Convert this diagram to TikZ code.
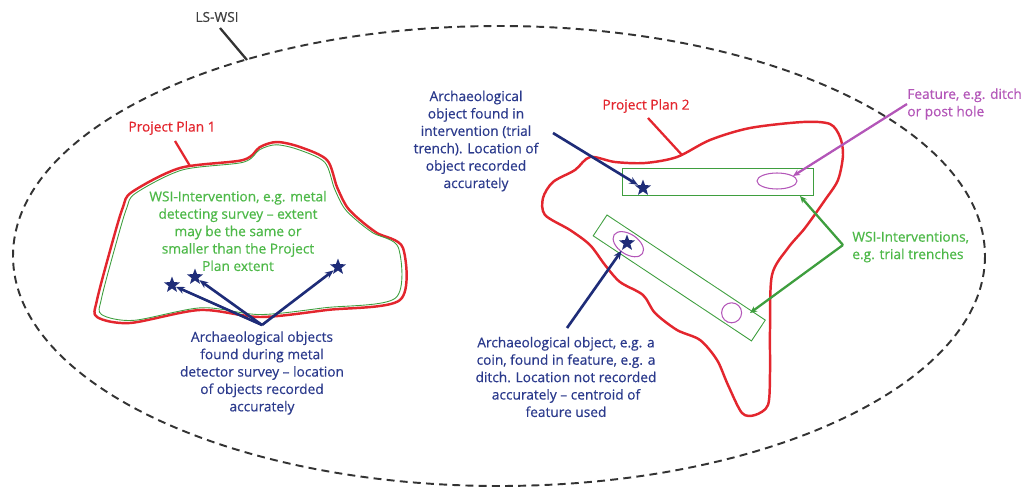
\documentclass[tikz,border=0pt]{standalone}
\usepackage{fontspec}
\setmainfont{Open Sans}[FakeBold=0.5]
\usetikzlibrary{shapes.geometric,arrows.meta}

\definecolor{planred}{HTML}{E3262E}
\definecolor{wsigreen}{HTML}{4DB848}
\definecolor{trenchgreen}{HTML}{3E9E3E}
\definecolor{objblue}{HTML}{1E2C78}
\definecolor{textblue}{HTML}{2B3A8C}
\definecolor{featpink}{HTML}{B356B8}

\tikzset{
  txt/.style={font=\fontsize{7.8}{9.9}\selectfont,inner sep=0pt},
  plantext/.style={txt,text=planred},
  bluetext/.style={txt,text=textblue,align=center},
  greentext/.style={txt,text=wsigreen},
  pinktext/.style={txt,text=featpink},
  objstar/.style={star,star points=5,star point ratio=2.4,fill=objblue,
    inner sep=0pt,minimum size=0.34cm},
  planline/.style={draw=planred,line width=1.4pt},
  trench/.style={draw=trenchgreen,line width=0.5pt},
  feat/.style={draw=featpink,line width=0.6pt},
  objarrow/.style={draw=objblue,line width=1.5pt,-{Stealth[length=5pt,width=4pt]}},
}

\begin{document}
\begin{tikzpicture}[x=0.02cm,y=-0.02cm]

    \useasboundingbox (0,0) rectangle (1029,490);

    % LS-WSI extent
    \draw[black!80,line width=1.1pt,dash pattern=on 4.5pt off 3pt]
      (499,256) ellipse [x radius=486, y radius=230];
    \node[txt,text=black!75] (lswsi) at (217,17) {LS-WSI};
    \coordinate (lswsiedge) at (247,60);
    \draw[black!80,line width=1.3pt] (220,28) -- (lswsiedge);

    % Project Plan 1
    \draw[planline] plot[smooth cycle,tension=0.5] coordinates {
      (132,192) (180,168) (243,160) (260,147) (277,142) (300,147) (327,160)
      (337,187) (347,207) (360,220) (377,233) (403,248) (400,300) (327,310)
      (260,317) (200,310) (130,323) (97,317) (97,300) (113,240) (123,207)};
    \begin{scope}[scale around={0.97:(250,235)}]
      \draw[trench] plot[smooth cycle,tension=0.5] coordinates {
        (132,192) (180,168) (243,160) (260,147) (277,142) (300,147) (327,160)
        (337,187) (347,207) (360,220) (377,233) (403,248) (400,300) (327,310)
        (260,317) (200,310) (130,323) (97,317) (97,300) (113,240) (123,207)};
    \end{scope}

    \node[plantext] (plan1) at (172,128) {Project Plan 1};
    \coordinate (plan1edge) at (190,166);
    \draw[planred,line width=1.3pt] (175,141) -- (plan1edge);

    \node[greentext,align=center] (survey) at (238,231)
      {WSI-Intervention, e.g. metal\\detecting survey -- extent\\may be the same or\\
       smaller than the Project\\Plan extent};

    \node[objstar] (star1) at (172,285) {};
    \node[objstar] (star2) at (195,277) {};
    \node[objstar] (star3) at (338,267) {};

    \node[bluetext] (surveyobj) at (262,373)
      {Archaeological objects\\found during metal\\detector survey -- location\\
       of objects recorded\\accurately};
    \coordinate (surveyapex) at (262,325);
    \draw[objarrow] (surveyapex) -- (star1);
    \draw[objarrow] (surveyapex) -- (star2);
    \draw[objarrow] (surveyapex) -- (star3);

    % Project Plan 2
    \draw[planline] plot[smooth cycle,tension=0.5] coordinates {
      (590,157) (615,162) (645,163) (677,157) (710,140) (750,128) (803,122)
      (830,124) (840,137) (843,155) (838,180) (825,200) (805,228) (788,248)
      (772,275) (770,330) (770,373) (768,405) (755,415) (742,413) (728,385)
      (717,360) (700,340) (677,330) (655,313) (643,295) (620,282) (605,265)
      (590,245) (570,230) (545,215) (543,198) (553,182) (575,170)};

    \node[plantext] (plan2) at (646,106) {Project Plan 2};
    \coordinate (plan2edge) at (682,155);
    \draw[planred,line width=1.3pt] (648,118) -- (plan2edge);

    % trial trenches
    \draw[trench] (622,168) rectangle (813,195);
    \draw[trench] (607,215) -- (765.3,320.1) -- (751.5,340.9) -- (593.2,235.8) -- cycle;

    % features
    \draw[feat] (777,181) ellipse [x radius=20, y radius=8];
    \begin{scope}[shift={(628.3,244.2)},rotate=-33.6]
      \draw[feat] (0,0) ellipse [x radius=17, y radius=10];
    \end{scope}
    \draw[feat] (731.6,312.8) circle [radius=10];

    \node[objstar] (star4) at (643,188) {};
    \node[objstar] (star5) at (627,243) {};

    \node[bluetext] (trenchobj) at (476,141)
      {Archaeological\\object found in\\intervention (trial\\trench). Location of\\
       object recorded\\accurately};
    \coordinate (trenchobjend) at (553,133);
    \draw[objarrow] (trenchobjend) -- (star4);

    \node[bluetext] (featobj) at (566,377)
      {Archaeological object, e.g. a\\coin, found in feature, e.g. a\\
       ditch. Location not recorded\\accurately -- centroid of\\feature used};
    \coordinate (featobjtop) at (567,328);
    \draw[objarrow] (featobjtop) -- (star5);

    % feature label
    \node[pinktext,align=left,anchor=west] (feature) at (907,104)
      {Feature, e.g. ditch\\or post hole};
    \coordinate (ditch) at (793,176);
    \draw[featpink,line width=1.3pt,-{Stealth[length=4pt,width=3.5pt]}]
      (feature.west) -- (ditch);

    % trench label
    \node[greentext,align=left,anchor=west] (trenches) at (852,247)
      {WSI-Interventions,\\e.g. trial trenches};
    \coordinate (trenchfork) at (843,245);
    \coordinate (trench1edge) at (800,196);
    \coordinate (trench2edge) at (750,313);
    \draw[trenchgreen,line width=1.3pt,-{Stealth[length=4pt,width=3.5pt]}]
      (trenchfork) -- (trench1edge);
    \draw[trenchgreen,line width=1.3pt,-{Stealth[length=4pt,width=3.5pt]}]
      (trenchfork) -- (trench2edge);

\end{tikzpicture}
\end{document}
